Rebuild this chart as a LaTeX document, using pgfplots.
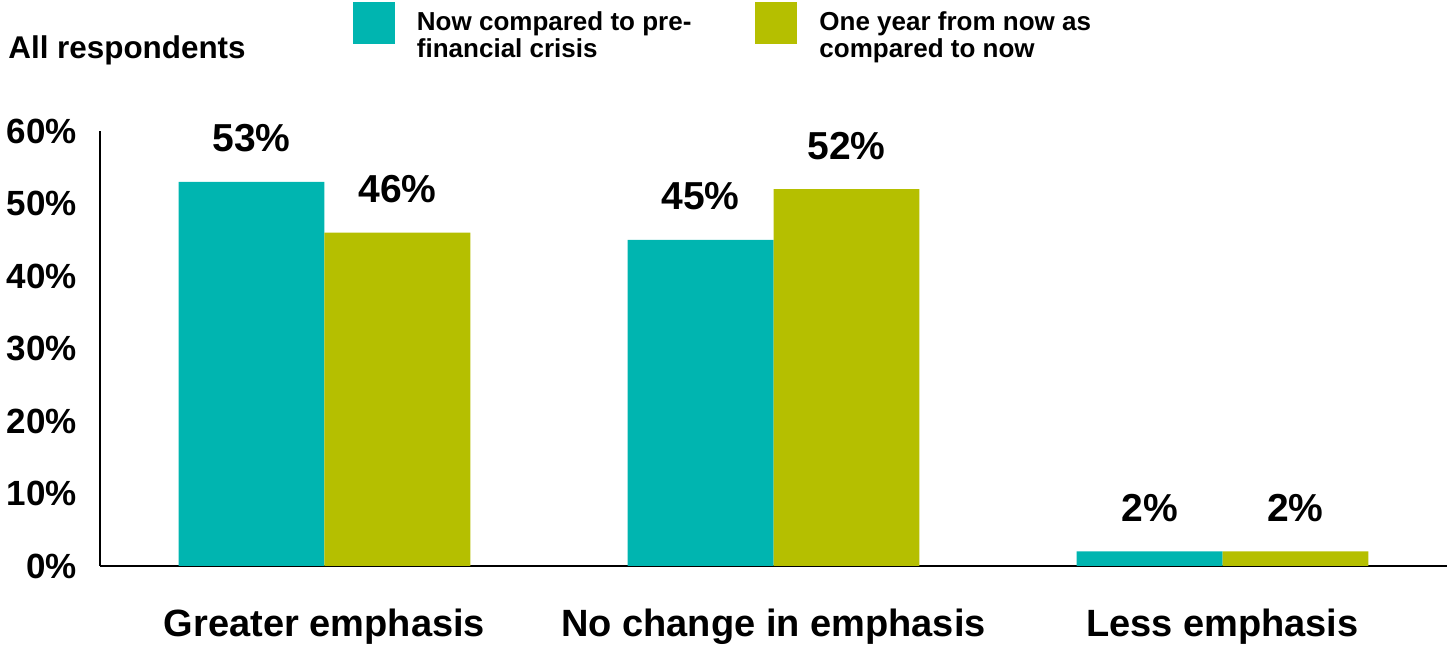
\documentclass[border=0pt]{standalone}
\usepackage{fontspec}
\setmainfont{Liberation Sans}
\usepackage{pgfplots}
\pgfplotsset{compat=1.18}
\definecolor{cteal}{RGB}{0,181,176}
\definecolor{colive}{RGB}{181,191,0}
\begin{document}
\begin{tikzpicture}
\begin{axis}[
  scale only axis,
  clip=false,
  width=673.5pt, height=217.5pt,
  xmin=-0.5, xmax=2.5, ymin=0, ymax=60,
  enlargelimits=false,
  axis x line=bottom, axis y line=left,
  axis line style={-},
  x axis line style={line width=1.4pt},
  y axis line style={line width=1pt},
  /pgf/number format/assume math mode=true,
  major tick length=0pt,
  tick style={draw=none},
  xtick={0,1,2},
  xticklabels={Greater emphasis, No change in emphasis, Less emphasis},
  xticklabel style={font=\fontsize{19}{22}\selectfont\bfseries, anchor=base, yshift=-35.5pt, inner sep=0pt},
  ytick={0,10,20,30,40,50,60},
  yticklabel={\pgfmathprintnumber{\tick}\%},
  yticklabel style={font=\fontsize{17.5}{21}\selectfont\bfseries, anchor=east, inner sep=0pt, xshift=-11.5pt},
  ybar, bar width=0.325,
  nodes near coords={\pgfmathprintnumber{\pgfplotspointmeta}\%},
  nodes near coords style={font=\fontsize{19.5}{23}\selectfont\bfseries, anchor=base, yshift=15pt, inner sep=0pt, text=black},
  legend columns=2,
  legend style={draw=none, fill=none, inner sep=0pt, outer sep=0pt,
    at={(0.1878,1.2966)}, anchor=north west,
    font=\fontsize{13}{11}\selectfont\bfseries,
    column sep=11pt,
    nodes={inner sep=0pt, align=left},
    /tikz/every even column/.append style={column sep=32pt}},
  legend image code/.code={\fill[#1] (0pt,-4pt) rectangle (21pt,17pt);},
]
\addplot[fill=cteal, draw=none, bar shift=-0.1625] coordinates {(0,53) (1,45) (2,2)};
\addlegendentry{Now compared to pre-\\financial crisis}
\addplot[fill=colive, draw=none, bar shift=0.1625] coordinates {(0,46) (1,52) (2,2)};
\addlegendentry{One year from now as\\compared to now}
\node[anchor=base west, inner sep=0pt, font=\fontsize{15.7}{18}\selectfont\bfseries] at (axis description cs:0,1) [xshift=-46pt, yshift=36.5pt] {All respondents};
\end{axis}
\pgfresetboundingbox
\path (-50pt,-41pt) rectangle (673.5pt,283pt);
\end{tikzpicture}
\end{document}
